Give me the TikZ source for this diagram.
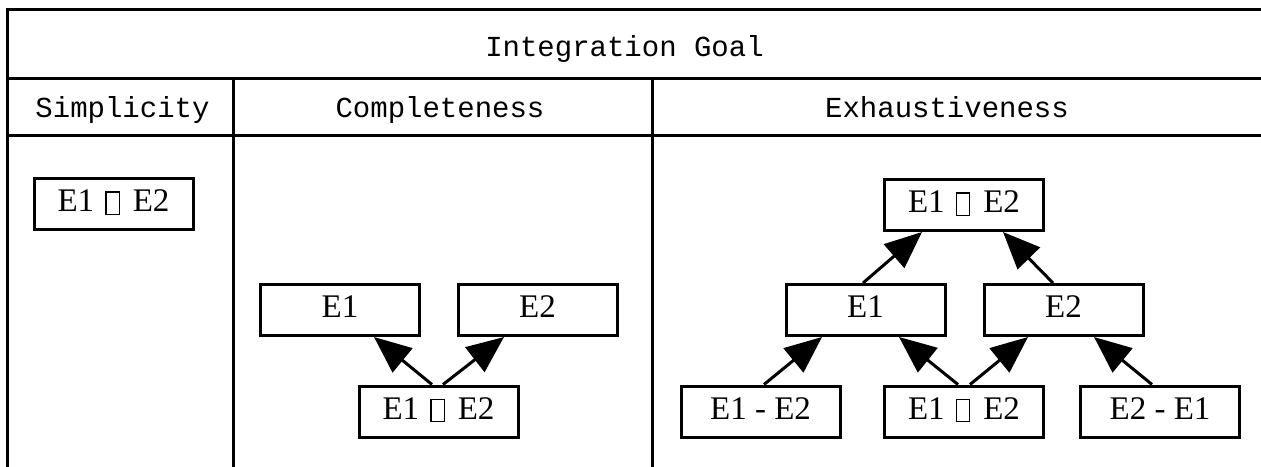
\documentclass[tikz,border=0pt]{standalone}
\usepackage{fontspec}
\setmainfont{Liberation Serif}
\setmonofont{Liberation Mono}
\usetikzlibrary{arrows.meta}
% empty glyph box, as the set operator is printed
\newcommand\nochar{\hspace*{11pt}\raisebox{-2pt}{\fboxsep=0pt\fboxrule=1.3pt\fbox{\rule{0pt}{21pt}\kern12pt}}\hspace*{13pt}}
\tikzset{
  rule/.style={line width=3pt, draw=black, line cap=rect},
  headlabel/.style={font=\ttfamily\fontsize{29}{30}\selectfont, inner sep=0pt, anchor=base},
  setbox/.style={draw=black, line width=3pt, minimum width=159pt, minimum height=51pt,
    inner sep=0pt, text height=22pt, text depth=7pt, font=\fontsize{33}{34}\selectfont},
  link/.style={line width=3pt, -{Triangle[length=37pt,width=31pt]}},
}

\begin{document}
\begin{tikzpicture}[x=1pt, y=-1pt]
\useasboundingbox (0,0) rectangle (1261,466);
% table rules
\draw[rule] (7,9) -- (1261,9);
\draw[rule] (7,78) -- (1261,78);
\draw[rule] (7,135) -- (1261,135);
\draw[rule] (7,9) -- (7,466);
\draw[rule] (233,78) -- (233,466);
\draw[rule] (652,78) -- (652,466);
\node[headlabel] (goal) at (624.5,56) {Integration Goal};
\node[headlabel] (simp) at (122.5,117) {Simplicity};
\node[headlabel] (comp) at (440,117) {Completeness};
\node[headlabel] (exh) at (947,117) {Exhaustiveness};
% simplicity
\node[setbox] (s-union) at (113.5,204) {E1\nochar E2};
% completeness
\node[setbox] (c-e1) at (340,310) {E1};
\node[setbox] (c-e2) at (537.5,310) {E2};
\node[setbox] (c-inter) at (438.5,411.5) {E1\nochar E2};
\draw[link] ([xshift=-6.5pt]c-inter.north) -- ([xshift=34pt]c-e1.south);
\draw[link] ([xshift=4.5pt]c-inter.north) -- ([xshift=-33.5pt]c-e2.south);
% exhaustiveness
\node[setbox] (x-union) at (964,205) {E1\nochar E2};
\node[setbox] (x-e1) at (865.5,310) {E1};
\node[setbox] (x-e2) at (1063.5,310) {E2};
\node[setbox] (x-diff12) at (760.5,411.5) {E1 - E2};
\node[setbox] (x-inter) at (964,411.5) {E1\nochar E2};
\node[setbox] (x-diff21) at (1160,411.5) {E2 - E1};
\draw[link] ([xshift=3.5pt]x-diff12.north) -- ([xshift=-43.5pt]x-e1.south);
\draw[link] ([xshift=-6pt]x-inter.north) -- ([xshift=33.5pt]x-e1.south);
\draw[link] ([xshift=6pt]x-inter.north) -- ([xshift=-35.5pt]x-e2.south);
\draw[link] ([xshift=-8pt]x-diff21.north) -- ([xshift=30.5pt]x-e2.south);
\draw[link] ([xshift=-2.5pt]x-e1.north) -- ([xshift=-42pt]x-union.south);
\draw[link] ([xshift=-10.5pt]x-e2.north) -- ([xshift=39pt]x-union.south);
\end{tikzpicture}
\end{document}
